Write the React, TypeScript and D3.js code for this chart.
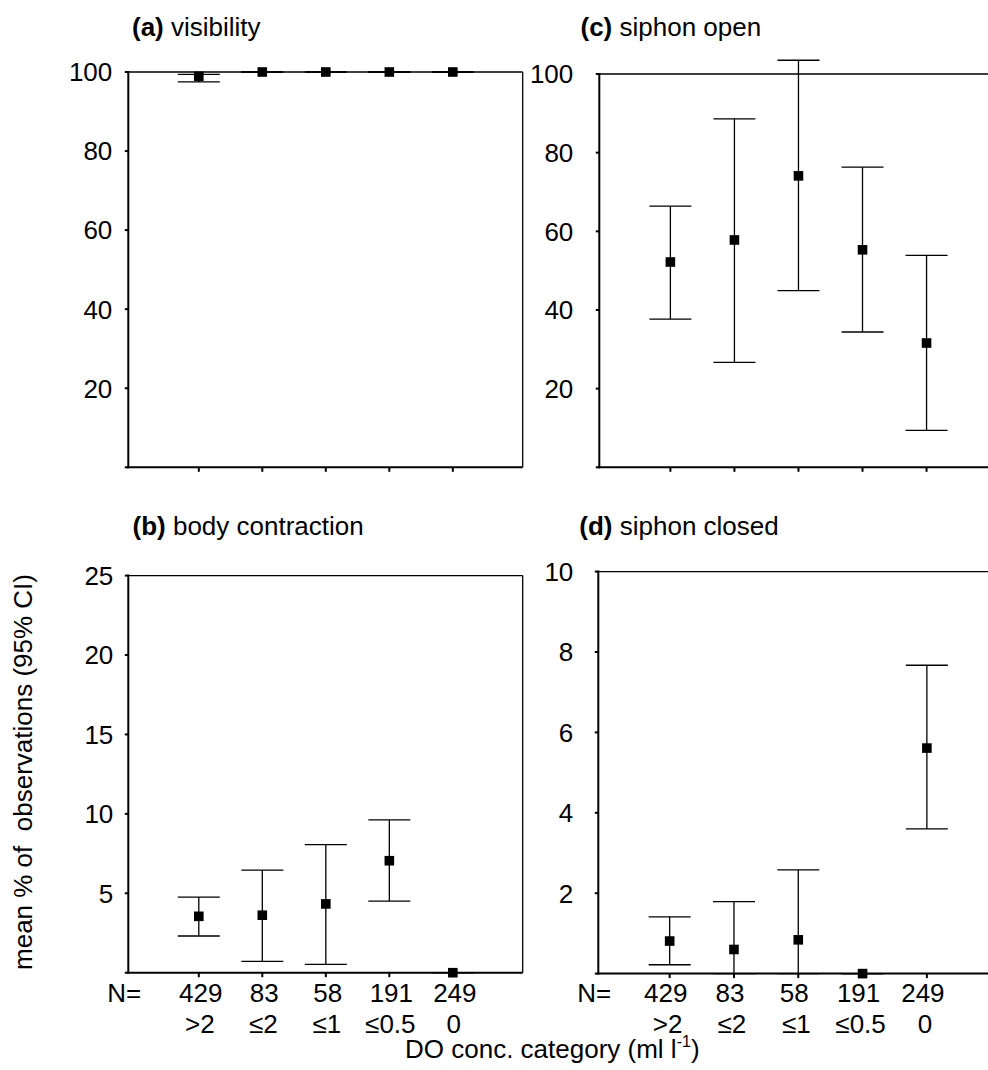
import React from 'react';
import * as d3 from 'd3';

const categories = ['>2', '≤2', '≤1', '≤0.5', '0'];
const sampleSizes = ['429', '83', '58', '191', '249'];

const visibilityMean = [98.9, 100, 100, 100, 100];
const visibilityLower = [97.5, 100, 100, 100, 100];
const visibilityUpper = [99.4, 100, 100, 100, 100];

const siphonOpenMean = [52.2, 57.8, 74.1, 55.3, 31.6];
const siphonOpenLower = [37.7, 26.7, 44.9, 34.4, 9.4];
const siphonOpenUpper = [66.4, 88.6, 103.5, 76.3, 53.9];

const bodyContractionMean = [3.55, 3.62, 4.33, 7.05, 0];
const bodyContractionLower = [2.31, 0.71, 0.53, 4.51, 0];
const bodyContractionUpper = [4.76, 6.46, 8.06, 9.62, 0];

const siphonClosedMean = [0.81, 0.6, 0.84, 0, 5.61];
const siphonClosedLower = [0.22, 0, 0, 0, 3.6];
const siphonClosedUpper = [1.41, 1.79, 2.58, 0, 7.67];

const percentTicks = [0, 20, 40, 60, 80, 100];
const bodyTicks = [0, 5, 10, 15, 20, 25];
const closedTicks = [0, 2, 4, 6, 8, 10];

const FONT = "'Liberation Sans', Arial, Helvetica, sans-serif";
const FS = 26;

type PanelCfg = {
  letter: string;
  name: string;
  mean: number[];
  lower: number[];
  upper: number[];
  ticks: number[];
  yMax: number;
  left: number;
  right: number;
  top: number;
  bottom: number;
  labelGap: number;
  titleX: number;
  titleY: number;
  showN: boolean;
  nDx: number;
};

const panels: PanelCfg[] = [
  {
    letter: '(a)', name: 'visibility', mean: visibilityMean, lower: visibilityLower, upper: visibilityUpper,
    ticks: percentTicks, yMax: 100, left: 128.3, right: 522.7, top: 72, bottom: 467.3, labelGap: 16,
    titleX: 132, titleY: 36, showN: false, nDx: 0,
  },
  {
    letter: '(c)', name: 'siphon open', mean: siphonOpenMean, lower: siphonOpenLower, upper: siphonOpenUpper,
    ticks: percentTicks, yMax: 100, left: 599.3, right: 997, top: 74, bottom: 467.3, labelGap: 26,
    titleX: 580.5, titleY: 36, showN: false, nDx: 0,
  },
  {
    letter: '(b)', name: 'body contraction', mean: bodyContractionMean, lower: bodyContractionLower, upper: bodyContractionUpper,
    ticks: bodyTicks, yMax: 25, left: 128.3, right: 522.7, top: 575.6, bottom: 972.7, labelGap: 15,
    titleX: 132.5, titleY: 534.5, showN: true, nDx: 2,
  },
  {
    letter: '(d)', name: 'siphon closed', mean: siphonClosedMean, lower: siphonClosedLower, upper: siphonClosedUpper,
    ticks: closedTicks, yMax: 10, left: 598.3, right: 997.6, top: 571.6, bottom: 973.6, labelGap: 25,
    titleX: 579.3, titleY: 534.5, showN: true, nDx: -4,
  },
];

function Panel({ p }: { p: PanelCfg }) {
  const x = d3.scaleLinear().domain([-0.11, 6.1]).range([p.left, p.right]);
  const y = d3.scaleLinear().domain([0, p.yMax]).range([p.bottom, p.top]);
  const idx = d3.range(categories.length);
  const capHalf = 21;
  const sq = 9.6;
  return (
    <g>
      <text x={p.titleX} y={p.titleY} fontSize={FS} fontFamily={FONT} fill="#000">
        <tspan fontWeight="bold">{p.letter}</tspan>
        <tspan> {p.name}</tspan>
      </text>
      {/* box: top and right thin */}
      <line x1={p.left} x2={p.right} y1={p.top} y2={p.top} stroke="#000" strokeWidth={1.3} />
      <line x1={p.right} x2={p.right} y1={p.top} y2={p.bottom} stroke="#000" strokeWidth={1.3} />
      {/* axes thick */}
      <line x1={p.left} x2={p.left} y1={p.top - 1} y2={p.bottom + 1} stroke="#000" strokeWidth={2} />
      <line x1={p.left - 1} x2={p.right} y1={p.bottom} y2={p.bottom} stroke="#000" strokeWidth={2} />
      {/* y ticks */}
      {p.ticks.map((t) => (
        <g key={'yt' + t}>
          <line x1={p.left - 3.5} x2={p.left} y1={y(t)} y2={y(t)} stroke="#000" strokeWidth={2} />
          {t !== 0 && (
            <text x={p.left - p.labelGap} y={y(t)} dy="0.36em" textAnchor="end" fontSize={FS} fontFamily={FONT} fill="#000">
              {t}
            </text>
          )}
        </g>
      ))}
      {/* x ticks */}
      {idx.map((i) => (
        <line key={'xt' + i} x1={x(i + 1)} x2={x(i + 1)} y1={p.bottom} y2={p.bottom + 4.5} stroke="#000" strokeWidth={2} />
      ))}
      {/* error bars */}
      {idx.map((i) => {
        const cx = x(i + 1);
        return (
          <g key={'eb' + i}>
            <line x1={cx} x2={cx} y1={y(p.lower[i])} y2={y(p.upper[i])} stroke="#000" strokeWidth={1.3} />
            <line x1={cx - capHalf} x2={cx + capHalf} y1={y(p.upper[i])} y2={y(p.upper[i])} stroke="#000" strokeWidth={1.3} />
            <line x1={cx - capHalf} x2={cx + capHalf} y1={y(p.lower[i])} y2={y(p.lower[i])} stroke="#000" strokeWidth={1.3} />
            <rect x={cx - sq / 2} y={y(p.mean[i]) - sq / 2} width={sq} height={sq} fill="#000" />
          </g>
        );
      })}
      {p.showN && (
        <g fontSize={FS} fontFamily={FONT} fill="#000">
          <text x={p.left - 4} y={1002} textAnchor="middle">N=</text>
          {idx.map((i) => (
            <text key={'n' + i} x={x(i + 1) + p.nDx} y={1002} textAnchor="middle">{sampleSizes[i]}</text>
          ))}
          {idx.map((i) => (
            <text key={'c' + i} x={x(i + 1) + p.nDx / 2} y={1033} textAnchor="middle">{categories[i]}</text>
          ))}
        </g>
      )}
    </g>
  );
}

export default function App() {
  return (
    <svg width={988} height={1070} style={{ position: 'absolute', left: 0, top: 0, background: '#fff' }}>
      <rect x={0} y={0} width={988} height={1070} fill="#fff" />
      {panels.map((p) => (
        <Panel key={p.letter} p={p} />
      ))}
      <text
        transform="translate(32,772) rotate(-90)"
        textAnchor="middle"
        fontSize={FS}
        fontFamily={FONT}
        fill="#000"
        style={{ whiteSpace: 'pre' }}
      >
        {'mean % of  observations (95% CI)'}
      </text>
      <text x={405} y={1058} fontSize={FS} fontFamily={FONT} fill="#000">
        DO conc. category (ml l
        <tspan fontSize={16} dy={-11}>-1</tspan>
        <tspan dy={11}>)</tspan>
      </text>
    </svg>
  );
}
